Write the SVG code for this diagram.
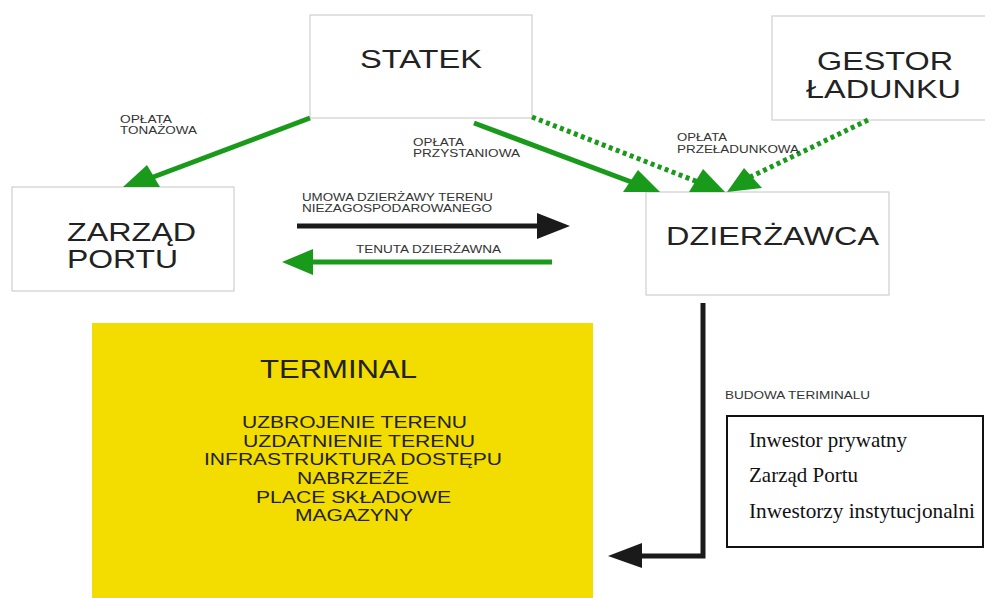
<svg xmlns="http://www.w3.org/2000/svg" width="985" height="598" viewBox="0 0 985 598">
<style>
.box{fill:#fff;stroke:#cfcfcf;stroke-width:1.2}
.big{font-family:"Liberation Sans",Arial,sans-serif;fill:#222;font-size:25px}
.item{font-family:"Liberation Sans",Arial,sans-serif;fill:#222;font-size:16px}
.lbl{font-family:"Liberation Sans",Arial,sans-serif;fill:#333;font-size:11px}
.serif{font-family:"Liberation Serif","Times New Roman",serif;fill:#111;font-size:21px}
.g{stroke:#1a9a1a;stroke-width:5;fill:none}
.gd{stroke:#1a9a1a;stroke-width:5;fill:none;stroke-dasharray:4 3.5}
.k{stroke:#1a1a1a;stroke-width:5;fill:none}
.gh{fill:#1a9a1a}
.kh{fill:#1a1a1a}
</style>
<rect width="985" height="598" fill="#fff"/>
<g id="statek">
<rect class="box" x="310" y="15" width="222" height="103"/>
<text class="big" x="360" y="68" font-size="26.5" textLength="122" lengthAdjust="spacingAndGlyphs">STATEK</text>
</g>
<g id="gestor">
<rect class="box" x="772" y="16" width="215" height="104"/>
<text class="big" x="817" y="70" textLength="136" lengthAdjust="spacingAndGlyphs">GESTOR</text>
<text class="big" x="806" y="98" textLength="155" lengthAdjust="spacingAndGlyphs">ŁADUNKU</text>
</g>
<g id="zarzad">
<rect class="box" x="12" y="187" width="222" height="104"/>
<text class="big" x="67" y="241" textLength="129" lengthAdjust="spacingAndGlyphs">ZARZĄD</text>
<text class="big" x="67" y="268" textLength="111" lengthAdjust="spacingAndGlyphs">PORTU</text>
</g>
<g id="dzierzawca">
<rect class="box" x="646" y="192" width="243" height="103"/>
<text class="big" x="666" y="245" textLength="213" lengthAdjust="spacingAndGlyphs">DZIERŻAWCA</text>
</g>
<g id="terminal">
<rect x="92" y="323" width="501" height="280" fill="#f3dc00"/>
<text class="big" x="260" y="378" font-size="26" textLength="157" lengthAdjust="spacingAndGlyphs">TERMINAL</text>
<text class="item" x="242" y="428" textLength="225" lengthAdjust="spacingAndGlyphs">UZBROJENIE TERENU</text>
<text class="item" x="243" y="447" textLength="232" lengthAdjust="spacingAndGlyphs">UZDATNIENIE TERENU</text>
<text class="item" x="204" y="465" textLength="298" lengthAdjust="spacingAndGlyphs">INFRASTRUKTURA DOSTĘPU</text>
<text class="item" x="297" y="484" textLength="112" lengthAdjust="spacingAndGlyphs">NABRZEŻE</text>
<text class="item" x="256" y="503" textLength="195" lengthAdjust="spacingAndGlyphs">PLACE SKŁADOWE</text>
<text class="item" x="295" y="521" textLength="118" lengthAdjust="spacingAndGlyphs">MAGAZYNY</text>
</g>
<g id="inwestorzy">
<rect x="727" y="416" width="256" height="131" fill="#fff" stroke="#111" stroke-width="2"/>
<text class="serif" x="749" y="447">Inwestor prywatny</text>
<text class="serif" x="749" y="482">Zarząd Portu</text>
<text class="serif" x="749" y="518" textLength="226" lengthAdjust="spacingAndGlyphs">Inwestorzy instytucjonalni</text>
</g>
<g id="connectors">
<line class="g" x1="310" y1="118" x2="148" y2="179"/>
<polygon class="gh" points="123,187 160,187 147,165"/>
<line class="g" x1="474" y1="123" x2="642" y2="186"/>
<polygon class="gh" points="623,192 660,192 638,170"/>
<line class="gd" x1="532" y1="117" x2="703" y2="184"/>
<polygon class="gh" points="689,192 725,192 703,169"/>
<line class="gd" x1="868" y1="120" x2="742" y2="181"/>
<polygon class="gh" points="727,192 762,188 744,168"/>
<line class="k" x1="297" y1="226" x2="540" y2="226"/>
<polygon class="kh" points="537,213 570,226 537,239"/>
<line class="g" x1="552" y1="262" x2="310" y2="262"/>
<polygon class="gh" points="313,249 282,262 313,275"/>
<polyline class="k" points="703,303 703,556 640,556"/>
<polygon class="kh" points="642,543 608,556 642,568"/>
<text class="lbl" x="120" y="123" textLength="52" lengthAdjust="spacingAndGlyphs">OPŁATA</text>
<text class="lbl" x="120" y="134" textLength="77" lengthAdjust="spacingAndGlyphs">TONAŻOWA</text>
<text class="lbl" x="413" y="146" textLength="51" lengthAdjust="spacingAndGlyphs">OPŁATA</text>
<text class="lbl" x="413" y="157" textLength="107" lengthAdjust="spacingAndGlyphs">PRZYSTANIOWA</text>
<text class="lbl" x="677" y="141" textLength="50" lengthAdjust="spacingAndGlyphs">OPŁATA</text>
<text class="lbl" x="677" y="153" textLength="122" lengthAdjust="spacingAndGlyphs">PRZEŁADUNKOWA</text>
<text class="lbl" x="302" y="201" font-size="12" textLength="191" lengthAdjust="spacingAndGlyphs">UMOWA DZIERŻAWY TERENU</text>
<text class="lbl" x="302" y="212" font-size="12" textLength="190" lengthAdjust="spacingAndGlyphs">NIEZAGOSPODAROWANEGO</text>
<text class="lbl" x="356" y="253" font-size="12" textLength="145" lengthAdjust="spacingAndGlyphs">TENUTA DZIERŻAWNA</text>
<text class="lbl" x="725" y="399" font-size="10.5" textLength="145" lengthAdjust="spacingAndGlyphs">BUDOWA TERIMINALU</text>
</g>
</svg>
